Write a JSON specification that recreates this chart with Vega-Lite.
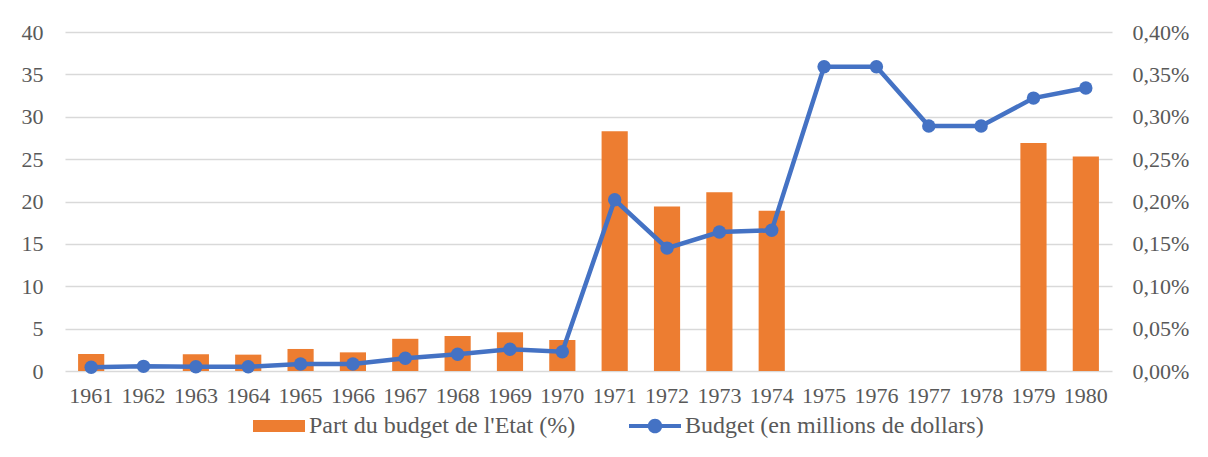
{
  "$schema": "https://vega.github.io/schema/vega-lite/v6.json",
  "width": 1047,
  "height": 339,
  "autosize": {"type": "none"},
  "padding": {"left": 65, "top": 32, "right": 96, "bottom": 86},
  "background": "white",
  "config": {
    "view": {"stroke": null},
    "font": "Liberation Serif",
    "axis": {"labelFont": "Liberation Serif", "labelColor": "#595959", "labelFontSize": 22},
    "legend": {"labelFont": "Liberation Serif", "labelColor": "#595959", "labelFontSize": 24, "labelLimit": 600}
  },
  "data": {
    "values": [
      {"year": "1961", "budget": 0.45, "part": 0.000200},
      {"year": "1962", "budget": 0.55, "part": null},
      {"year": "1963", "budget": 0.5, "part": 0.000197},
      {"year": "1964", "budget": 0.5, "part": 0.000193},
      {"year": "1965", "budget": 0.83, "part": 0.000260},
      {"year": "1966", "budget": 0.83, "part": 0.000220},
      {"year": "1967", "budget": 1.5, "part": 0.000380},
      {"year": "1968", "budget": 1.97, "part": 0.000413},
      {"year": "1969", "budget": 2.56, "part": 0.000456},
      {"year": "1970", "budget": 2.28, "part": 0.000366},
      {"year": "1971", "budget": 20.2, "part": 0.00283},
      {"year": "1972", "budget": 14.5, "part": 0.00194},
      {"year": "1973", "budget": 16.4, "part": 0.00211},
      {"year": "1974", "budget": 16.6, "part": 0.00189},
      {"year": "1975", "budget": 35.9, "part": null},
      {"year": "1976", "budget": 35.9, "part": null},
      {"year": "1977", "budget": 28.9, "part": null},
      {"year": "1978", "budget": 28.9, "part": null},
      {"year": "1979", "budget": 32.2, "part": 0.00269},
      {"year": "1980", "budget": 33.4, "part": 0.00253}
    ]
  },
  "layer": [
    {
      "mark": {"type": "bar", "color": "#ED7D31"},
      "encoding": {
        "x": {"field": "year", "type": "ordinal", "scale": {"paddingInner": 0.5, "paddingOuter": 0.25},
              "axis": {"labelAngle": 0, "domain": false, "ticks": false, "labelPadding": 14, "title": null}},
        "y": {"field": "part", "type": "quantitative", "scale": {"domain": [0, 0.004]},
              "axis": {"orient": "right", "values": [0, 0.0005, 0.001, 0.0015, 0.002, 0.0025, 0.003, 0.0035, 0.004],
                       "grid": false, "domain": false, "ticks": false, "labelPadding": 20, "title": null,
                       "labelExpr": "replace(format(datum.value, '.2%'), '.', ',')"}}
      }
    },
    {
      "mark": {"type": "line", "color": "#4472C4", "strokeWidth": 4.5,
               "point": {"filled": true, "size": 180, "color": "#4472C4", "opacity": 1}},
      "encoding": {
        "x": {"field": "year", "type": "ordinal",
              "axis": {"labelAngle": 0, "domain": false, "ticks": false, "labelPadding": 14, "title": null}},
        "y": {"field": "budget", "type": "quantitative", "scale": {"domain": [0, 40]},
              "axis": {"orient": "left", "values": [0, 5, 10, 15, 20, 25, 30, 35, 40], "grid": true,
                       "gridColor": "#D9D9D9", "gridWidth": 1.3, "domain": false, "ticks": false,
                       "labelPadding": 22, "title": null}}
      }
    },
    {
      "data": {"values": [{"s": "Part du budget de l'Etat (%)"}, {"s": "Budget (en millions de dollars)"}]},
      "transform": [{"filter": "false"}],
      "mark": {"type": "point", "filled": true, "opacity": 1},
      "encoding": {
        "color": {"field": "s", "type": "nominal",
                  "scale": {"domain": ["Part du budget de l'Etat (%)", "Budget (en millions de dollars)"], "range": ["#ED7D31", "#4472C4"]},
                  "legend": {"orient": "none", "legendX": 188, "legendY": 368, "direction": "horizontal",
                             "title": null, "padding": 0, "symbolSize": 2704, "symbolStrokeWidth": 0,
                             "symbolOpacity": 1, "labelOffset": 4, "columnPadding": 53, "labelLimit": 600}},
        "shape": {"field": "s", "type": "nominal",
                  "scale": {"domain": ["Part du budget de l'Etat (%)", "Budget (en millions de dollars)"],
                            "range": ["M-1,-0.23H1V0.23H-1Z", "M-1,-0.08H1V0.08H-1Z M-0.28,0A0.28,0.28 0 1,1 0.28,0A0.28,0.28 0 1,1 -0.28,0Z"]}}
      }
    }
  ],
  "resolve": {"scale": {"y": "independent"}}
}
